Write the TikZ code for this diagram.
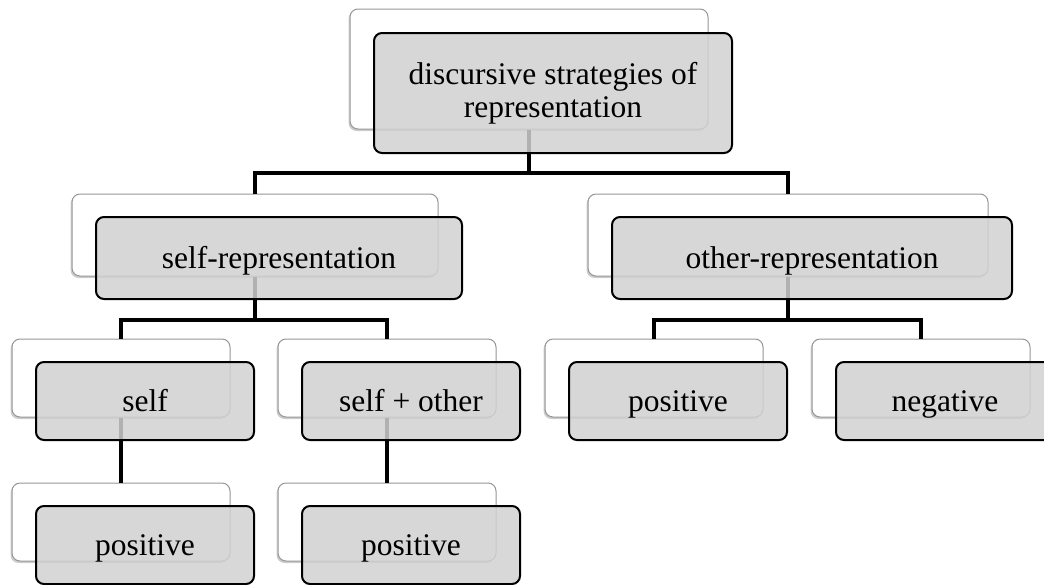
\documentclass[tikz,border=0pt]{standalone}
\usepackage{fontspec}
\setmainfont{Liberation Serif}
\usetikzlibrary{shadows}
\definecolor{boxgray}{RGB}{209,209,209}
\definecolor{edgegray}{RGB}{150,150,150}
\begin{document}
\begin{tikzpicture}[
    x=1pt, y=-1pt,
    every node/.style={align=center, font=\fontsize{31.5}{33}\selectfont},
    back box/.style={draw=edgegray, line width=1pt, fill=white, rounded corners=8pt,
        inner sep=0pt, drop shadow={shadow xshift=-1.5pt, shadow yshift=-2pt, opacity=0.4}},
    front box/.style={draw, line width=2pt, fill=boxgray, fill opacity=0.85, text opacity=1,
        rounded corners=8pt, inner sep=0pt},
    one line/.style={text height=24pt, text depth=4pt},
    small/.style={minimum width=218pt, minimum height=78pt},
    connector/.style={draw, line width=4pt},
    ]
\useasboundingbox (0,0) rectangle (1044,584);
% back boxes
\node[back box, minimum width=358pt, minimum height=120pt] (topB) at (529,69) {};
\node[back box, minimum width=366pt, minimum height=82pt] (selfrepB) at (255,235) {};
\node[back box, minimum width=400pt, minimum height=82pt] (otherrepB) at (788,235) {};
\node[back box, small] (selfB) at (121,378) {};
\node[back box, small] (selfotherB) at (387,378) {};
\node[back box, small] (otherposB) at (654,378) {};
\node[back box, small] (othernegB) at (921,378) {};
\node[back box, small] (selfposB) at (121,522) {};
\node[back box, small] (selfotherposB) at (387,522) {};
% connectors
\coordinate (j1) at (529,173);
\coordinate (j2) at (255,320);
\coordinate (j3) at (788,320);
\draw[connector] (topB.south) -- (j1);
\draw[connector] (j1) -| (selfrepB.north);
\draw[connector] (j1) -| (otherrepB.north);
\draw[connector] (selfrepB.south) -- (j2);
\draw[connector] (j2) -| (selfB.north);
\draw[connector] (j2) -| (selfotherB.north);
\draw[connector] (otherrepB.south) -- (j3);
\draw[connector] (j3) -| (otherposB.north);
\draw[connector] (j3) -| (othernegB.north);
\draw[connector] (selfB.south) -- (selfposB.north);
\draw[connector] (selfotherB.south) -- (selfotherposB.north);
% front boxes
\node[front box, minimum width=358pt, minimum height=120pt] (top) at (553,93) {discursive strategies of\\representation};
\node[front box, one line, minimum width=366pt, minimum height=82pt] (selfrep) at (279,258) {self-representation};
\node[front box, one line, minimum width=400pt, minimum height=82pt] (otherrep) at (812,258) {other-representation};
\node[front box, one line, small] (self) at (145,401) {self};
\node[front box, one line, small] (selfother) at (411,401) {self + other};
\node[front box, one line, small] (otherpos) at (678,401) {positive};
\node[front box, one line, small] (otherneg) at (945,401) {negative};
\node[front box, one line, small] (selfpos) at (145,545) {positive};
\node[front box, one line, small] (selfotherpos) at (411,545) {positive};
\end{tikzpicture}
\end{document}
